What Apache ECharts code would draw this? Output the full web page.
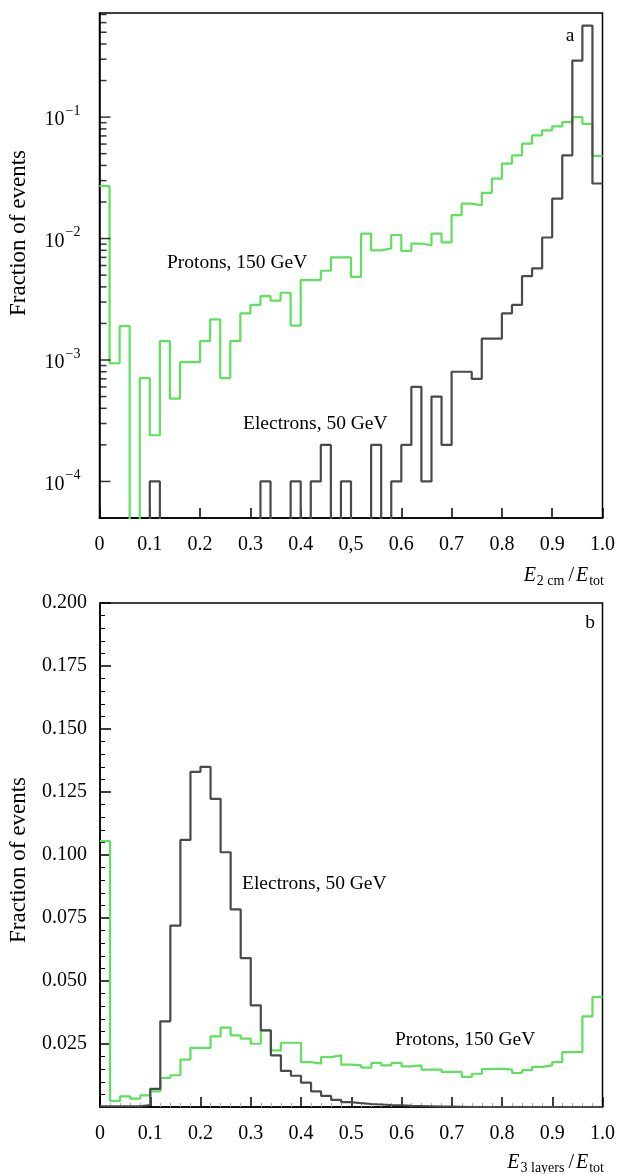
<!DOCTYPE html>
<html lang="en">
<head>
    <meta charset="UTF-8">
    <title>Fraction of events</title>
    <script src="https://cdn.jsdelivr.net/npm/echarts@6.0.0/dist/echarts.min.js"></script>
    <style>
        html, body { margin: 0; padding: 0; background: #fff; }
        #chart { width: 618px; height: 1174px; }
    </style>
</head>
<body>
<div id="chart"></div>
<script type="text/javascript">
    // 50 bins of width 0.02 on both panels
    var binWidth = 0.02;

    // panel a: E_2cm / E_tot, log scale (0 = empty bin)
    var protonsA = [
        0.027, 0.00094, 0.0019, 0, 0.00071, 0.00024, 0.00143, 0.00048, 0.00096, 0.00096,
        0.00143, 0.00216, 0.00071, 0.00143, 0.00242, 0.00284, 0.00336, 0.00308, 0.00358, 0.00192,
        0.00455, 0.00455, 0.00543, 0.0070, 0.0070, 0.00484, 0.0110, 0.0080, 0.0083, 0.0107,
        0.0079, 0.0091, 0.0088, 0.0110, 0.0093, 0.0156, 0.0194, 0.0188, 0.0238, 0.0312,
        0.0414, 0.0484, 0.0604, 0.0707, 0.0778, 0.0839, 0.091, 0.100, 0.088, 0.048
    ];
    var electronsA = [
        0, 0, 0, 0, 0, 0.0001, 0, 0, 0, 0,
        0, 0, 0, 0, 0, 0, 0.0001, 0, 0, 0.0001,
        0, 0.0001, 0.0002, 0, 0.0001, 0, 0, 0.0002, 0, 0.0001,
        0.0002, 0.0006, 0.0001, 0.0005, 0.0002, 0.0008, 0.0008, 0.0007, 0.0015, 0.0015,
        0.00242, 0.00284, 0.0049, 0.00568, 0.0102, 0.0213, 0.0484, 0.292, 0.566, 0.0284
    ];

    // panel b: E_3layers / E_tot, linear scale
    var protonsB = [
        0.1055, 0.0024, 0.0042, 0.0033, 0.0046, 0.0062, 0.0115, 0.0126, 0.0188, 0.0235,
        0.0235, 0.0280, 0.0315, 0.0284, 0.0271, 0.0251, 0.0304, 0.0225, 0.0255, 0.0255,
        0.0178, 0.0172, 0.0198, 0.0205, 0.0168, 0.0165, 0.0156, 0.0175, 0.0165, 0.0175,
        0.0161, 0.0165, 0.0148, 0.0148, 0.0139, 0.0139, 0.0119, 0.0132, 0.0150, 0.0152,
        0.0148, 0.0135, 0.0146, 0.0159, 0.0165, 0.0178, 0.0218, 0.0218, 0.0360, 0.0436
    ];
    var electronsB = [
        0.0003, 0.0003, 0.0003, 0.0003, 0.0008, 0.0072, 0.0340, 0.0720, 0.1060, 0.1330,
        0.1350, 0.1223, 0.1011, 0.0784, 0.0591, 0.0403, 0.0304, 0.0205, 0.0143, 0.0124,
        0.0097, 0.0062, 0.0044, 0.0028, 0.0019, 0.0015, 0.0012, 0.0010, 0.0008, 0.0007,
        0.0005, 0.0004, 0.0003, 0.0002, 0.0002, 0.0001, 0, 0, 0, 0,
        0, 0, 0, 0, 0, 0, 0, 0, 0, 0
    ];

    var xLabelsA = ['0', '0.1', '0.2', '0.3', '0.4', '0,5', '0.6', '0.7', '0.8', '0.9', '1.0'];
    var xLabelsB = ['0', '0.1', '0.2', '0.3', '0.4', '0.5', '0.6', '0.7', '0.8', '0.9', '1.0'];
    var yDecadesA = [1e-4, 1e-3, 1e-2, 1e-1];

    var serif = 'Liberation Serif';
    var green = '#5fe05f';
    var dark = '#4a4a4a';
    var LOG_FLOOR = 1e-7;   // empty bins fall below the log axis and get clipped

    // step histogram points: left edge of each bin, plus closing point at 1.0
    function steps(values, isLog) {
        var pts = [];
        for (var i = 0; i < values.length; i++) {
            var v = values[i];
            if (isLog && v <= 0) v = LOG_FLOOR;
            pts.push([+(i * binWidth).toFixed(2), v]);
        }
        pts.push([+(values.length * binWidth).toFixed(2), pts[pts.length - 1][1]]);
        return pts;
    }

    // minor ticks 2..9 x 10^n for the log axis
    var minorA = [];
    yDecadesA.forEach(function (d) {
        for (var k = 2; k <= 9; k++) {
            if (d * k < 0.72) minorA.push([0, d * k]);
        }
    });
    var majorA = yDecadesA.map(function (d) { return [0, d]; });

    function xAxisCfg(idx, labels) {
        return {
            type: 'value', gridIndex: idx, min: 0, max: 1, interval: 0.1,
            axisLine: { lineStyle: { color: '#000', width: 1.5 } },
            axisTick: { inside: true, length: 10, lineStyle: { color: '#000', width: 1.5 } },
            splitLine: { show: false },
            axisLabel: {
                color: '#000', fontFamily: serif, fontSize: 20, margin: 17,
                formatter: function (v) { return labels[Math.round(v * 10)]; }
            }
        };
    }

    var tickText = function (x, y, text, extra) {
        var t = {
            type: 'text', x: x, y: y,
            style: { text: text, font: '19.5px "' + serif + '"', fill: '#000' }
        };
        for (var k in extra) t.style[k] = extra[k];
        return t;
    };

    var nameRich = {
        i: { fontFamily: serif, fontStyle: 'italic', fontSize: 20, lineHeight: 24, verticalAlign: 'middle' },
        n: { fontFamily: serif, fontSize: 20, lineHeight: 24, verticalAlign: 'middle', padding: [0, 2, 0, 2] },
        sub: { fontFamily: serif, fontSize: 14, lineHeight: 14, verticalAlign: 'bottom', padding: [0, 2, 0, 1] }
    };

    var dom = document.getElementById('chart');
    var myChart = echarts.init(dom, null, { renderer: 'canvas' });

    var option = {
        animation: false,
        backgroundColor: '#fff',
        grid: [
            { left: 99.5, right: 13, top: 13, height: 505, show: true, borderColor: '#000', borderWidth: 1.5 },
            { left: 100, right: 13, top: 603, height: 504, show: true, borderColor: '#000', borderWidth: 1.5 }
        ],
        xAxis: [xAxisCfg(0, xLabelsA), (function () {
            var a = xAxisCfg(1, xLabelsB);
            a.minorTick = { show: true, splitNumber: 5, length: 4, lineStyle: { color: '#aaa', width: 1 } };
            return a;
        })()],
        yAxis: [
            {
                type: 'log', gridIndex: 0, min: 5e-5, max: 0.72, logBase: 10,
                axisLine: { lineStyle: { color: '#000', width: 1.5 } },
                axisTick: { show: false },
                splitLine: { show: false },
                axisLabel: {
                    color: '#000', fontFamily: serif, fontSize: 20, margin: 19,
                    formatter: function (v) {
                        var e = Math.log10(v);
                        if (Math.abs(e - Math.round(e)) > 1e-6) return '';
                        return '{b|10}{s|\u2212' + (-Math.round(e)) + '}';
                    },
                    rich: {
                        b: { fontFamily: serif, fontSize: 20, lineHeight: 26, verticalAlign: 'bottom' },
                        s: { fontFamily: serif, fontSize: 14, lineHeight: 24, verticalAlign: 'top', padding: [0, 0, 0, 1] }
                    }
                }
            },
            {
                type: 'value', gridIndex: 1, min: 0, max: 0.2, interval: 0.025,
                axisLine: { lineStyle: { color: '#000', width: 1.5 } },
                axisTick: { inside: true, length: 11, lineStyle: { color: '#000', width: 1.5 } },
                minorTick: { show: true, splitNumber: 5, length: 5, lineStyle: { color: '#000', width: 1 } },
                splitLine: { show: false },
                axisLabel: {
                    color: '#000', fontFamily: serif, fontSize: 20, margin: 13,
                    formatter: function (v) { return v === 0 ? '' : v.toFixed(3); }
                }
            }
        ],
        series: [
            {
                name: 'Protons, 150 GeV', type: 'line', step: 'end', xAxisIndex: 0, yAxisIndex: 0,
                data: steps(protonsA, true), symbol: 'none', clip: true,
                lineStyle: { color: green, width: 2.2 }, z: 3
            },
            {
                name: 'Electrons, 50 GeV', type: 'line', step: 'end', xAxisIndex: 0, yAxisIndex: 0,
                data: steps(electronsA, true), symbol: 'none', clip: true,
                lineStyle: { color: dark, width: 2.2 }, z: 4
            },
            {
                name: 'Protons, 150 GeV', type: 'line', step: 'end', xAxisIndex: 1, yAxisIndex: 1,
                data: steps(protonsB, false), symbol: 'none', clip: true,
                lineStyle: { color: green, width: 2.2 }, z: 3
            },
            {
                name: 'Electrons, 50 GeV', type: 'line', step: 'end', xAxisIndex: 1, yAxisIndex: 1,
                data: steps(electronsB, false), symbol: 'none', clip: true,
                lineStyle: { color: dark, width: 2.2 }, z: 4
            },
            // log-axis tick marks drawn inward from the left axis
            {
                type: 'scatter', xAxisIndex: 0, yAxisIndex: 0, data: majorA, silent: true,
                symbol: 'rect', symbolSize: [11, 1.5], symbolOffset: [5.5, 0],
                itemStyle: { color: '#000' }, z: 5
            },
            {
                type: 'scatter', xAxisIndex: 0, yAxisIndex: 0, data: minorA, silent: true,
                symbol: 'rect', symbolSize: [7, 1.5], symbolOffset: [3.5, 0],
                itemStyle: { color: '#000' }, z: 5
            }
        ],
        graphic: [
            tickText(570, 36, 'a', { align: 'center', verticalAlign: 'middle' }),
            tickText(590, 623, 'b', { align: 'center', verticalAlign: 'middle' }),
            tickText(167, 263, 'Protons, 150 GeV', { verticalAlign: 'middle' }),
            tickText(243, 424, 'Electrons, 50 GeV', { verticalAlign: 'middle' }),
            tickText(242, 884, 'Electrons, 50 GeV', { verticalAlign: 'middle' }),
            tickText(395, 1040, 'Protons, 150 GeV', { verticalAlign: 'middle' }),
            {
                type: 'text', x: 19, y: 233, rotation: Math.PI / 2,
                style: { text: 'Fraction of events', font: '23px "' + serif + '"', fill: '#000', align: 'center', verticalAlign: 'middle' }
            },
            {
                type: 'text', x: 19, y: 860, rotation: Math.PI / 2,
                style: { text: 'Fraction of events', font: '23px "' + serif + '"', fill: '#000', align: 'center', verticalAlign: 'middle' }
            },
            {
                type: 'text', x: 606, y: 576,
                style: { text: '{i|E}{sub|2 cm}{n|/}{i|E}{sub|tot}', rich: nameRich, fill: '#000', align: 'right', verticalAlign: 'middle' }
            },
            {
                type: 'text', x: 606, y: 1163,
                style: { text: '{i|E}{sub|3 layers}{n|/}{i|E}{sub|tot}', rich: nameRich, fill: '#000', align: 'right', verticalAlign: 'middle' }
            }
        ]
    };

    myChart.setOption(option);
</script>
</body>
</html>
